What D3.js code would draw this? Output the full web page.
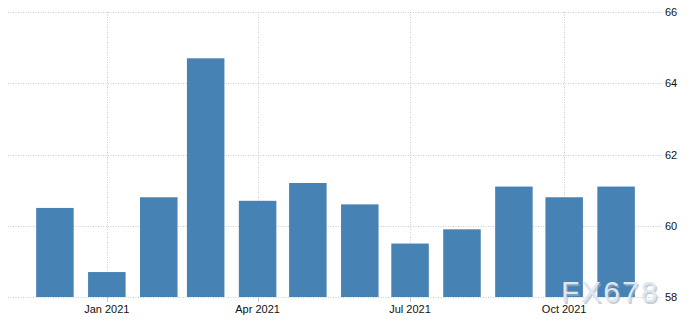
<!DOCTYPE html>
<html>
<head>
<meta charset="utf-8">
<script src="https://cdn.jsdelivr.net/npm/d3@7"></script>
<style>
  body { margin: 0; background: #fff; }
  svg { display: block; font-family: "Liberation Sans", Arial, sans-serif; }
  .grid line { stroke: #ccc; stroke-dasharray: 1,1.5; }
  .tick-label { fill: #111; font-size: 11px; }
</style>
</head>
<body>
<div id="chart"></div>
<script>
// monthly readings, Dec 2020 .. Nov 2021
const months = ["2020-12", "2021-01", "2021-02", "2021-03", "2021-04", "2021-05",
                "2021-06", "2021-07", "2021-08", "2021-09", "2021-10", "2021-11"];
const values = [60.5, 58.7, 60.8, 64.7, 60.7, 61.2, 60.6, 59.5, 59.9, 61.1, 60.8, 61.1];
const yTicks = [58, 60, 62, 64, 66];
const xTicks = ["2021-01", "2021-04", "2021-07", "2021-10"];

const width = 690, height = 328;
const margin = {top: 12, right: 27, bottom: 31, left: 8};
const barWidth = 37.5;

const parseMonth = d3.timeParse("%Y-%m");
const data = months.map((m, i) => ({date: parseMonth(m), value: values[i]}));

const svg = d3.select("#chart").append("svg")
    .attr("width", width)
    .attr("height", height);

const x = d3.scaleTime()
    .domain([new Date(2020, 10, 3), new Date(2021, 10, 29)])
    .range([margin.left, width - margin.right]);

const y = d3.scaleLinear()
    .domain([58, 66])
    .range([height - margin.bottom, margin.top]);

// gridlines
const grid = svg.append("g").attr("class", "grid");

grid.selectAll(".hgrid")
    .data(yTicks)
    .join("line")
    .attr("class", "hgrid")
    .attr("x1", margin.left)
    .attr("x2", width - margin.right)
    .attr("y1", d => Math.round(y(d)) + 0.5)
    .attr("y2", d => Math.round(y(d)) + 0.5);

grid.selectAll(".vgrid")
    .data(xTicks.map(parseMonth))
    .join("line")
    .attr("class", "vgrid")
    .attr("x1", d => Math.round(x(d)) + 0.5)
    .attr("x2", d => Math.round(x(d)) + 0.5)
    .attr("y1", y(66))
    .attr("y2", y(58));

// bars
svg.append("g")
    .selectAll("rect")
    .data(data)
    .join("rect")
    .attr("x", d => x(d.date) - barWidth / 2)
    .attr("width", barWidth)
    .attr("y", d => y(d.value))
    .attr("height", d => y(58) - y(d.value))
    .attr("fill", "#4682b4");

// x axis: small ticks and labels
const xAxis = svg.append("g");
xAxis.selectAll("line")
    .data(xTicks.map(parseMonth))
    .join("line")
    .attr("x1", d => Math.round(x(d)) + 0.5)
    .attr("x2", d => Math.round(x(d)) + 0.5)
    .attr("y1", y(58))
    .attr("y2", y(58) + 5)
    .attr("stroke", "#ccc");

xAxis.selectAll("text")
    .data(xTicks.map(parseMonth))
    .join("text")
    .attr("class", "tick-label")
    .attr("x", d => x(d))
    .attr("y", y(58) + 16)
    .attr("text-anchor", "middle")
    .text(d3.timeFormat("%b %Y"));

// y axis labels on the right
svg.append("g")
    .selectAll("text")
    .data(yTicks)
    .join("text")
    .attr("class", "tick-label")
    .attr("x", width - margin.right + 2)
    .attr("y", d => y(d))
    .attr("dominant-baseline", "central")
    .text(d => d);

// watermark
const wm = svg.append("g").attr("transform", "translate(561 302)");
wm.append("text")
    .attr("x", 1.5).attr("y", 1.5)
    .attr("font-size", 30)
    .attr("letter-spacing", 2)
    .attr("fill", "#9fb0c2")
    .attr("opacity", 0.6)
    .text("FX678");
wm.append("text")
    .attr("font-size", 30)
    .attr("letter-spacing", 2)
    .attr("fill", "#dfe8f1")
    .text("FX678");
</script>
</body>
</html>
